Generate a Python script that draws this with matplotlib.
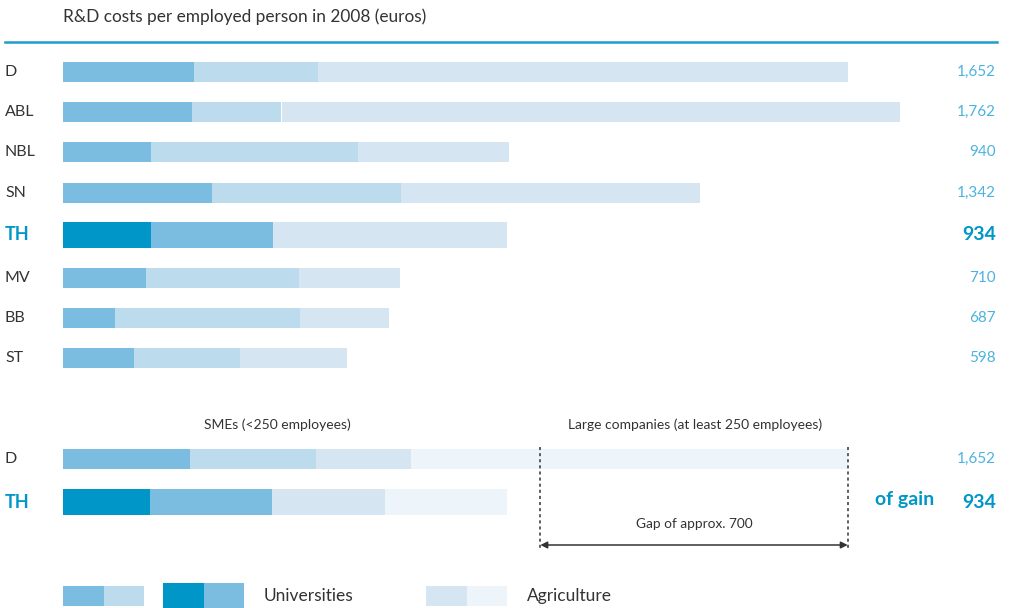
import matplotlib
matplotlib.use("Agg")
import matplotlib.pyplot as plt
from matplotlib.patches import Rectangle

# ---- data -------------------------------------------------------------
regions = ["D", "ABL", "NBL", "SN", "TH", "MV", "BB", "ST"]
totals = [1652, 1762, 940, 1342, 934, 710, 687, 598]
# three components per region (euros); they add up to the totals
seg_a = [275, 271, 186, 313, 185, 174, 109, 150]
seg_b = [262, 189, 436, 399, 257, 322, 390, 223]
seg_c = [1115, 1302, 318, 630, 492, 214, 188, 225]
total_labels = ["1,652", "1,762", "940", "1,342", "934", "710", "687", "598"]

# comparison D vs TH, last component split into SMEs / large companies
cmp_regions = ["D", "TH"]
cmp_totals = [1652, 934]
cmp_segs = [[268, 264, 200, 920],
            [184, 256, 238, 256]]
cmp_labels = ["1,652", "934"]
gap_bounds = [1005, 1652]
gap_text = "Gap of approx. 700"

legend_labels = ["", "Universities", "Agriculture"]

# ---- style ------------------------------------------------------------
DARK = "#0096c8"
MED = "#7bbde0"
LIGHT = "#bcdbec"
LIGHTER = "#d5e5f2"
LIGHTEST = "#eef5fa"
VAL = "#4cb3de"
TXT = "#333333"
FONT = "Lato"

W, H = 1009, 608
fig = plt.figure(figsize=(W / 100, H / 100), dpi=100)
ax = fig.add_axes([0, 0, 1, 1])
scale = 0.475          # pixels per euro
x0 = 63                # pixel where bars start
ax.set_xlim(-x0 / scale, (W - x0) / scale)
ax.set_ylim(H, 0)
ax.axis("off")


def fx(px):
    return px / W


def fy(py):
    return 1 - py / H


def hbar(y, segs, colors, h):
    left = 0
    for v, c in zip(segs, colors):
        ax.barh(y, v, left=left, height=h, color=c, linewidth=0)
        left += v


# title and rule
fig.text(fx(63), fy(17), "R&D costs per employed person in 2008 (euros)",
         fontsize=12.4, color=TXT, family=FONT, va="center", ha="left")
fig.add_artist(plt.Line2D([fx(5), fx(997)], [fy(41.7), fy(41.7)],
                          color="#1d9dcb", lw=1.8))

row_y = [71.7, 111.7, 151.7, 192.7, 234.7, 277.7, 317.7, 357.7]
for name, y, a, b, c, lab in zip(regions, row_y, seg_a, seg_b, seg_c,
                                 total_labels):
    hl = name == "TH"
    if hl:
        hbar(y, [a, b, c], [DARK, MED, LIGHTER], 26)
    else:
        hbar(y, [a, b, c], [MED, LIGHT, LIGHTER], 20)
    fig.text(fx(5), fy(y), name, fontsize=13 if hl else 11.5,
             color=DARK if hl else TXT, family=FONT,
             weight="bold" if hl else "normal", va="center", ha="left")
    fig.text(fx(996), fy(y), lab, fontsize=14 if hl else 11,
             color=DARK if hl else VAL, family=FONT,
             weight="bold" if hl else "normal", va="center", ha="right")

# comparison block
fig.text(fx(277), fy(425), "SMEs (<250 employees)", fontsize=10,
         color=TXT, family=FONT, va="center", ha="center")
fig.text(fx(695), fy(425), "Large companies (at least 250 employees)",
         fontsize=10, color=TXT, family=FONT, va="center", ha="center")

cmp_y = [459, 502]
cmp_colors = [[MED, LIGHT, LIGHTER, LIGHTEST],
              [DARK, MED, LIGHTER, LIGHTEST]]
for name, y, segs, cols, lab in zip(cmp_regions, cmp_y, cmp_segs,
                                    cmp_colors, cmp_labels):
    hl = name == "TH"
    hbar(y, segs, cols, 26 if hl else 20)
    fig.text(fx(5), fy(y), name, fontsize=13 if hl else 11.5,
             color=DARK if hl else TXT, family=FONT,
             weight="bold" if hl else "normal", va="center", ha="left")
    fig.text(fx(996), fy(y), lab, fontsize=14 if hl else 11,
             color=DARK if hl else VAL, family=FONT,
             weight="bold" if hl else "normal", va="center", ha="right")

fig.text(fx(934), fy(500), "of gain", fontsize=14, color=DARK,
         family=FONT, weight="bold", va="center", ha="right")

for gx in gap_bounds:
    ax.plot([gx, gx], [447, 549], color=TXT, lw=1.1, ls=(0, (2, 2)))
ax.annotate("", xy=(gap_bounds[1], 545), xytext=(gap_bounds[0], 545),
            arrowprops=dict(arrowstyle="<|-|>", color=TXT, lw=1.1,
                            mutation_scale=10, shrinkA=0, shrinkB=0))
ax.text(sum(gap_bounds) / 2, 524, gap_text, fontsize=9.8, color=TXT,
        family=FONT, va="center", ha="center")

# legend
leg_items = [
    (63, [MED, LIGHT], 586, 20),
    (163, [DARK, MED], 583, 25),
    (426, [LIGHTER, LIGHTEST], 586, 20),
]
for (lx, cols, ty, hh), lab in zip(leg_items, legend_labels):
    for i, c in enumerate(cols):
        fig.add_artist(Rectangle((fx(lx + 40.5 * i), fy(ty + hh)),
                                 40.5 / W, hh / H, color=c, lw=0,
                                 transform=fig.transFigure))
    if lab:
        fig.text(fx(lx + 101), fy(596), lab, fontsize=12.5, color=TXT,
                 family=FONT, va="center", ha="left")

fig.savefig("out.png", dpi=100)
